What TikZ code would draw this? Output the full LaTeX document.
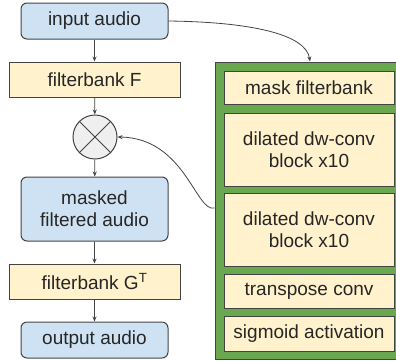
\documentclass[tikz,border=0pt]{standalone}
\usepackage{fontspec}
\setmainfont{Liberation Sans}
\usetikzlibrary{arrows.meta}
\definecolor{audioblue}{HTML}{CFE2F3}
\definecolor{bankyellow}{HTML}{FFF2CC}
\definecolor{maskgreen}{HTML}{6AA84F}
\definecolor{edgegray}{HTML}{434343}
\definecolor{multgray}{HTML}{EFEFEF}
\tikzset{
  audiobox/.style={draw=edgegray, fill=audioblue, rounded corners=6pt, align=center, inner sep=0pt},
  bankbox/.style={draw=edgegray, fill=bankyellow, align=center, inner sep=0pt},
  flow/.style={-{Stealth[length=5pt,width=4pt]}, edgegray, line width=0.8pt}
}
\begin{document}
\begin{tikzpicture}[x=1pt,y=-1pt,line width=1pt,font=\fontsize{19}{22}\selectfont,text=black!85]
\useasboundingbox (0,0) rectangle (396,360);
\node [audiobox, minimum width=147pt, minimum height=36pt] (input) at (94.5,21) {input audio};
\node [bankbox, minimum width=171pt, minimum height=35pt] (bankF) at (94.5,79.5) {filterbank F};
\node [draw=edgegray, fill=multgray, circle, minimum size=44pt, inner sep=0pt] (mult) at (95,137) {};
\draw [edgegray] (mult.45) -- (mult.225);
\draw [edgegray] (mult.135) -- (mult.315);
\node [audiobox, minimum width=147pt, minimum height=64pt] (masked) at (94.5,209) {masked\\filtered audio};
\node [bankbox, minimum width=171pt, minimum height=35pt] (bankG) at (94.5,281.5) {filterbank G\textsuperscript{T}};
\node [audiobox, minimum width=147pt, minimum height=36pt] (output) at (94.5,340) {output audio};
\node [draw=edgegray, fill=maskgreen, minimum width=183pt, minimum height=297pt, inner sep=0pt] (masknet) at (306.5,210.5) {};
\node [bankbox, minimum width=170pt, minimum height=33pt] (maskbank) at (309,87.5) {mask filterbank};
\node [bankbox, minimum width=170pt, minimum height=73pt] (dilA) at (309,149.5) {dilated dw-conv\\block x10};
\node [bankbox, minimum width=170pt, minimum height=73pt] (dilB) at (309,229.5) {dilated dw-conv\\block x10};
\node [bankbox, minimum width=170pt, minimum height=34pt] (tconv) at (309,291) {transpose conv};
\node [bankbox, minimum width=170pt, minimum height=35pt] (sigm) at (309,333.5) {sigmoid activation};
\draw [flow] (input) -- (bankF);
\draw [flow] (bankF) -- (mult);
\draw [flow] (mult) -- (masked);
\draw [flow] (masked) -- (bankG);
\draw [flow] (bankG) -- (output);
\draw [flow] (input.east) .. controls (250,22) and (306,34) .. ([xshift=3.5pt]masknet.north);
\draw [flow] ([yshift=2.5pt]masknet.west) .. controls (196,213) and (185,138) .. (mult.east);
\end{tikzpicture}
\end{document}
